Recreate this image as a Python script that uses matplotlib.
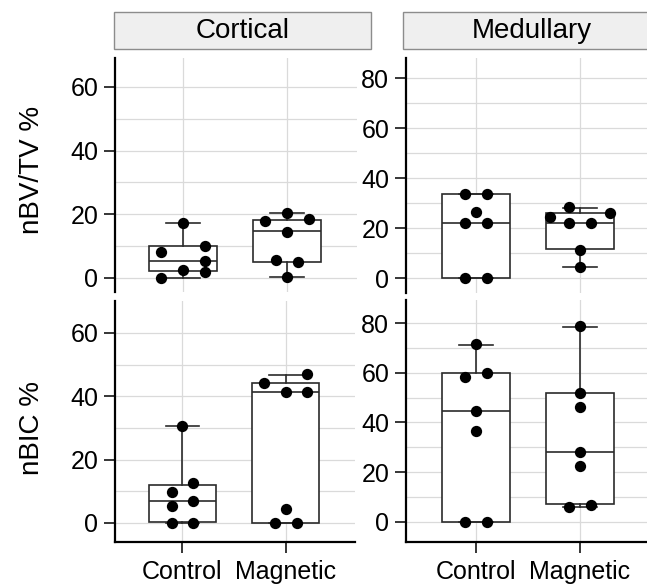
import matplotlib
matplotlib.use("Agg")
import matplotlib.pyplot as plt
from matplotlib.patches import Rectangle

plt.rcParams["font.family"] = ["Liberation Sans", "DejaVu Sans"]

W, H = 647, 587

groups = ["Control", "Magnetic"]
regions = ["Cortical", "Medullary"]
measures = ["nBV/TV %", "nBIC %"]

# point values
cort_bv_control = [17.2, 10.2, 8.1, 5.4, 2.4, 1.8, 0.0]
cort_bv_magnetic = [20.3, 18.0, 18.4, 14.6, 5.7, 5.0, 0.2]
med_bv_control = [33.7, 33.7, 26.7, 22.0, 22.0, 0.0, 0.0]
med_bv_magnetic = [28.4, 24.7, 26.3, 22.0, 22.0, 11.5, 4.7]
cort_bic_control = [30.5, 12.6, 9.8, 7.1, 5.5, 0.0, 0.0]
cort_bic_magnetic = [47.1, 44.2, 41.3, 41.3, 4.5, 0.0, 0.0]
med_bic_control = [71.4, 60.1, 58.4, 44.5, 36.4, 0.0, 0.0]
med_bic_magnetic = [78.7, 51.8, 46.2, 28.3, 22.3, 6.7, 5.8]

# box stats: q1, median, q3, lower whisker, upper whisker
cort_bv_box = [(2.1, 5.4, 10.1, 0.0, 17.2), (5.0, 14.8, 18.2, 0.2, 20.3)]
med_bv_box = [(0.3, 22.3, 33.6, 0.0, 33.7), (11.9, 22.0, 26.0, 4.7, 28.1)]
cort_bic_box = [(0.3, 7.1, 12.1, 0.0, 30.5), (0.0, 41.3, 44.2, 0.0, 46.8)]
med_bic_box = [(0.0, 44.5, 59.8, 0.0, 71.3), (7.2, 28.3, 51.7, 6.0, 78.6)]

# horizontal dodge of the dots, in dot widths
cort_bv_dodge = [[0, 2, -2, 2, 0, 2, -2], [0, -2, 2, 0, -1, 1, 0]]
med_bv_dodge = [[-1, 1, 0, -1, 1, -1, 1], [-1, -2.7, 2.7, -1, 1, 0, 0]]
cort_bic_dodge = [[0, 1, -1, 1, -1, -1, 1], [2, -2, 0, 2, 0, -1, 1]]
med_bic_dodge = [[0, 1, -1, 0, 0, -1, 1], [0, 0, 0, 0, 0, 1, -1]]

step = 0.106
line_col = "#2b2b2b"


def px_rect(x0, y0, x1, y1):
    return [x0 / W, 1 - y1 / H, (x1 - x0) / W, (y1 - y0) / H]


def draw_panel(ax, values, dodge, boxes, xlim, ylim, ymax_tick, bottom):
    stats = []
    for g, b in zip(groups, boxes):
        stats.append(dict(label=g, q1=b[0], med=b[1], q3=b[2],
                          whislo=b[3], whishi=b[4], fliers=[]))
    lp = dict(color=line_col, lw=1.2)
    ax.bxp(stats, positions=[1, 2], widths=0.645, capwidths=0.32,
           showfliers=False, patch_artist=True, manage_ticks=False,
           boxprops=dict(facecolor="white", edgecolor=line_col, lw=1.2),
           medianprops=lp, whiskerprops=lp, capprops=lp)

    for i, (vals, offs) in enumerate(zip(values, dodge)):
        xs = [i + 1 + o * step for o in offs]
        ax.scatter(xs, vals, s=66, color="black", zorder=4, linewidths=0)

    ax.set_xlim(*xlim)
    ax.set_ylim(*ylim)
    ax.set_xticks([1, 2])
    ax.set_yticks(range(0, ymax_tick + 1, 20))
    ax.set_yticks(range(10, ymax_tick, 20), minor=True)
    ax.grid(which="both", color="#dadada", lw=0.9)
    ax.set_axisbelow(True)

    for s in ["top", "right"]:
        ax.spines[s].set_visible(False)
    ax.spines["left"].set_linewidth(1.6)
    ax.spines["bottom"].set_linewidth(1.6)
    ax.tick_params(axis="y", labelsize=18, length=8, width=1.1, pad=4)
    ax.tick_params(which="minor", length=0)
    if bottom:
        ax.set_xticklabels(groups)
        ax.tick_params(axis="x", labelsize=18, length=8, width=1.1, pad=5)
    else:
        ax.spines["bottom"].set_visible(False)
        ax.tick_params(axis="x", bottom=False, labelbottom=False)


fig = plt.figure(figsize=(W / 100, H / 100), dpi=100)

ax_tl = fig.add_axes(px_rect(115, 58, 357, 292))
ax_tr = fig.add_axes(px_rect(406, 58, 647, 293))
ax_bl = fig.add_axes(px_rect(115, 301, 355, 542))
ax_br = fig.add_axes(px_rect(406, 300, 647, 542))

draw_panel(ax_tl, [cort_bv_control, cort_bv_magnetic], cort_bv_dodge,
           cort_bv_box, (0.346, 2.673), (-4.4, 69.1), 60, False)
draw_panel(ax_tr, [med_bv_control, med_bv_magnetic], med_bv_dodge,
           med_bv_box, (0.327, 2.644), (-5.8, 88.0), 80, False)
draw_panel(ax_bl, [cort_bic_control, cort_bic_magnetic], cort_bic_dodge,
           cort_bic_box, (0.346, 2.673), (-6.0, 70.1), 60, True)
draw_panel(ax_br, [med_bic_control, med_bic_magnetic], med_bic_dodge,
           med_bic_box, (0.327, 2.644), (-8.1, 89.3), 80, True)

# facet strips
for name, (x0, x1) in zip(regions, [(114, 371), (403, 660)]):
    fig.add_artist(Rectangle((x0 / W, 1 - 49 / H), (x1 - x0) / W, 37 / H,
                             transform=fig.transFigure, facecolor="#efefef",
                             edgecolor="#8c8c8c", lw=1.0))
    fig.text((x0 + x1) / 2 / W, 1 - 31 / H, name, fontsize=20,
             ha="center", va="center")

fig.text(32 / W, 1 - 170 / H, measures[0], rotation=90, fontsize=20,
         ha="center", va="center")
fig.text(32 / W, 1 - 428 / H, measures[1], rotation=90, fontsize=20,
         ha="center", va="center")

fig.savefig("out.png", dpi=100)
